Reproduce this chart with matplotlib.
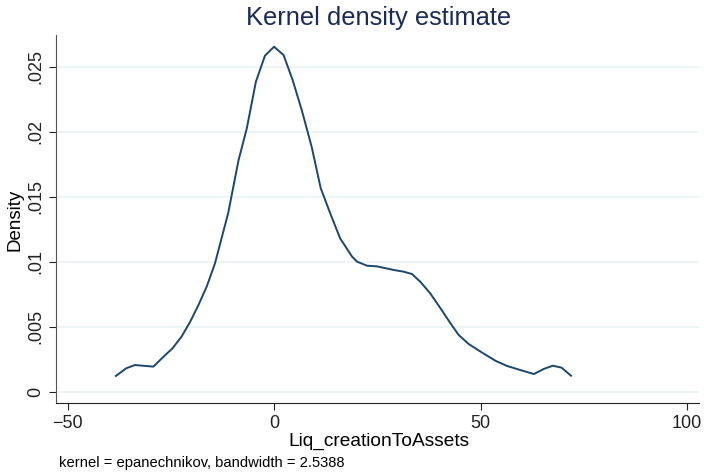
import matplotlib.pyplot as plt

# kernel density curve
x_vals = [-38.3, -35.8, -33.7, -29.2, -26.8, -24.6, -22.4, -20.3, -18.3, -16.3,
          -14.3, -11.1, -8.6, -6.6, -4.4, -2.2, 0.0, 2.3, 4.5, 6.7,
          9.1, 11.3, 13.6, 16.0, 18.9, 20.1, 22.5, 24.9, 29.0, 31.4,
          33.4, 35.4, 37.8, 40.3, 42.7, 44.7, 47.1, 50.4, 53.6, 56.4,
          59.6, 62.9, 65.3, 67.5, 69.6, 71.9]
density = [0.00123, 0.00182, 0.00207, 0.00195, 0.0027, 0.00335, 0.00425, 0.0054, 0.00668, 0.0081,
           0.00988, 0.01375, 0.0178, 0.02025, 0.02383, 0.02583, 0.02652, 0.02588, 0.02396, 0.02166,
           0.01884, 0.01565, 0.01372, 0.0118, 0.01039, 0.01001, 0.0097, 0.00965, 0.00937, 0.00924,
           0.00906, 0.00847, 0.00758, 0.00643, 0.00528, 0.00438, 0.00369, 0.00302, 0.0024, 0.002,
           0.00169, 0.00138, 0.00177, 0.00202, 0.00187, 0.00125]

x_ticks = [-50, 0, 50, 100]
y_ticks = [0, 0.005, 0.01, 0.015, 0.02, 0.025]
y_labels = ["0", ".005", ".01", ".015", ".02", ".025"]

plt.rcParams['font.family'] = ['Liberation Sans', 'DejaVu Sans']

fig = plt.figure(figsize=(7.04, 4.73), dpi=100)
ax = fig.add_axes([0.0795, 0.148, 0.9135, 0.778])

ax.plot(x_vals, density, color='#1a476f', linewidth=1.4)

ax.set_xlim(-52.8, 102.9)
ax.set_ylim(-0.000845, 0.02742)

ax.set_yticks(y_ticks)
ax.set_yticklabels(y_labels, rotation=90, va='center')
ax.set_xticks(x_ticks)
ax.tick_params(axis='both', labelsize=13, length=5, direction='out', colors='#222222')
ax.grid(axis='y', color='#eaf2f3', linewidth=1.2)
ax.set_axisbelow(True)

for s in ['top', 'right']:
    ax.spines[s].set_visible(False)
ax.spines['left'].set_color('#555555')
ax.spines['bottom'].set_color('#222222')

fig.text(0.538, 0.962, "Kernel density estimate", ha='center', va='center',
         fontsize=18.4, color='#1a2a5a')
fig.text(0.5376, 0.067, "Liq_creationToAssets", ha='center', va='center', fontsize=13.8)
fig.text(0.022, 0.535, "Density", ha='center', va='center', rotation=90, fontsize=13.5)
fig.text(0.084, 0.021, "kernel = epanechnikov, bandwidth = 2.5388", ha='left',
         va='center', fontsize=10.6)

fig.savefig("out.png", dpi=100)
